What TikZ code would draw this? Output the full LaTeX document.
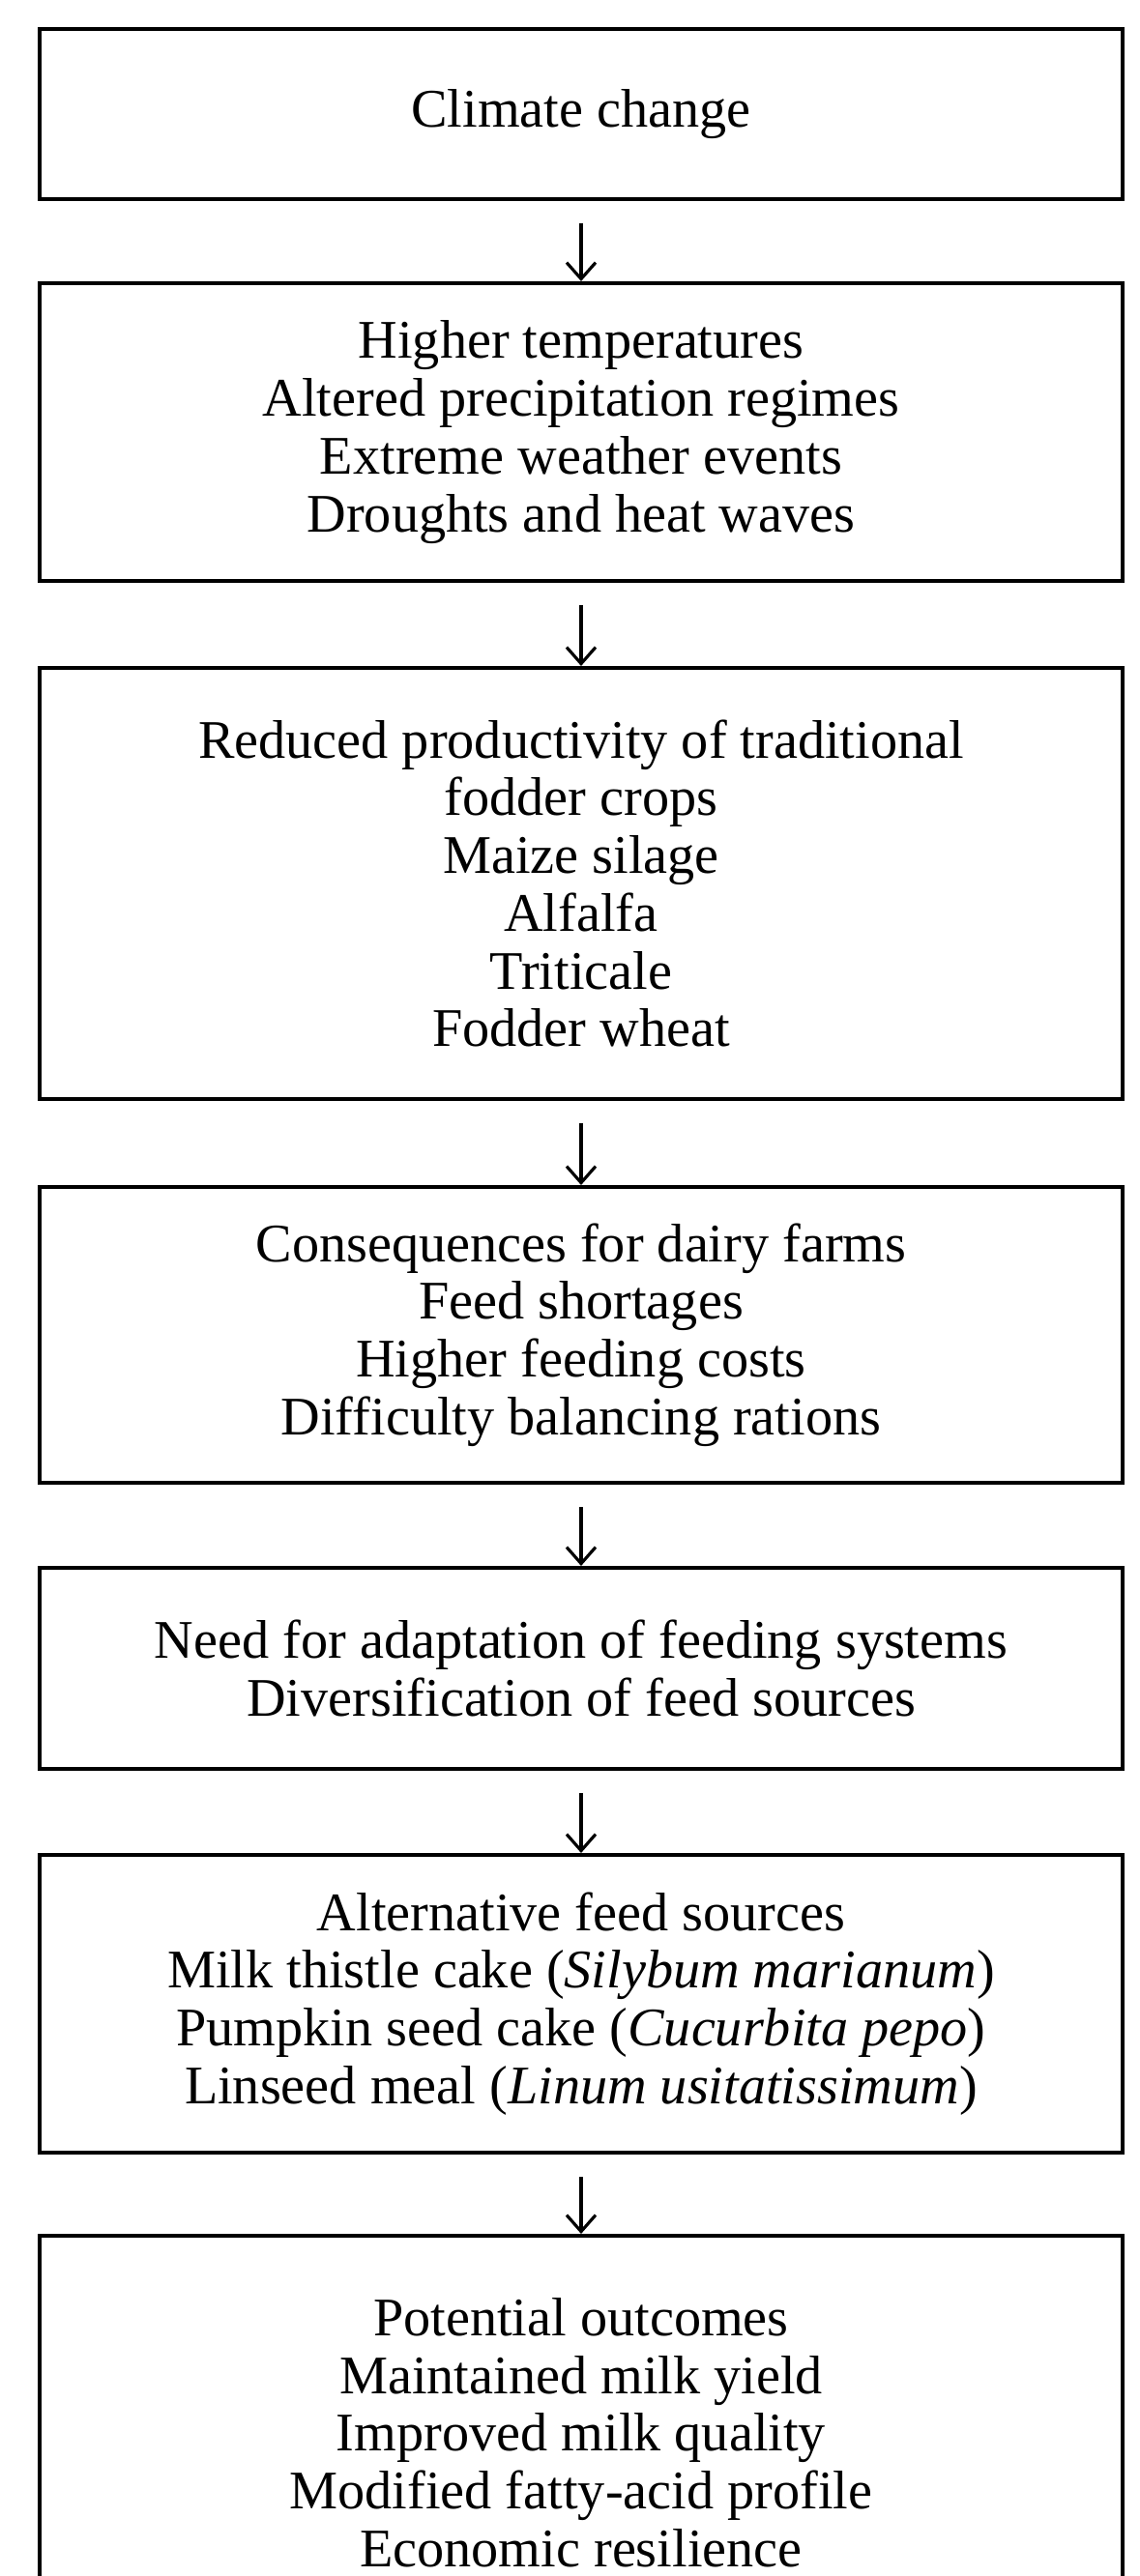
\documentclass[tikz,border=0pt]{standalone}
\usepackage{fontspec}
\setmainfont{Liberation Serif}
\usepackage{tikz}
\usetikzlibrary{positioning, arrows.meta}

\begin{document}
\begin{tikzpicture}[
            box/.style = {draw, rectangle, line width=2.3pt,
                minimum width=22.4cm, inner sep=0pt, align=center,
                font=\fontsize{32}{34}\selectfont},
            flow/.style = {line width=1.8pt,
                -{Straight Barb[length=0.34cm, width=0.6cm, line width=1.8pt]}}]

        \useasboundingbox (0,0) rectangle (23.58,-53.3);

        % Climate change
        \node[box, minimum height=3.52cm] (climate) at (12.02,-2.36) {Climate change};

        % Weather effects
        \node[box, minimum height=6.16cm] (weather) at (12.02,-8.94)
            {Higher temperatures\\Altered precipitation regimes\\Extreme weather events\\Droughts and heat waves};

        % Fodder crops
        \node[box, minimum height=8.92cm] (crops) at (12.02,-18.28)
            {Reduced productivity of traditional\\fodder crops\\Maize silage\\Alfalfa\\Triticale\\Fodder wheat};

        % Farms
        \node[box, minimum height=6.12cm] (farms) at (12.02,-27.62)
            {Consequences for dairy farms\\Feed shortages\\Higher feeding costs\\Difficulty balancing rations};

        % Adaptation
        \node[box, minimum height=4.16cm] (adapt) at (12.02,-34.52)
            {Need for adaptation of feeding systems\\Diversification of feed sources};

        % Alternative feeds
        \node[box, minimum height=6.16cm] (feeds) at (12.02,-41.46)
            {Alternative feed sources\\Milk thistle cake (\textit{Silybum marianum})\\Pumpkin seed cake (\textit{Cucurbita pepo})\\Linseed meal (\textit{Linum usitatissimum})};

        % Outcomes (bottom edge runs off the page)
        \node[box, minimum height=8.14cm] (outcomes) at (12.02,-50.33)
            {Potential outcomes\\Maintained milk yield\\Improved milk quality\\Modified fatty-acid profile\\Economic resilience};

        % Arrows
        \draw[flow] ([yshift=-0.46cm]climate.south) -- (weather.north);
        \draw[flow] ([yshift=-0.46cm]weather.south) -- (crops.north);
        \draw[flow] ([yshift=-0.46cm]crops.south) -- (farms.north);
        \draw[flow] ([yshift=-0.46cm]farms.south) -- (adapt.north);
        \draw[flow] ([yshift=-0.46cm]adapt.south) -- (feeds.north);
        \draw[flow] ([yshift=-0.46cm]feeds.south) -- (outcomes.north);

\end{tikzpicture}
\end{document}
